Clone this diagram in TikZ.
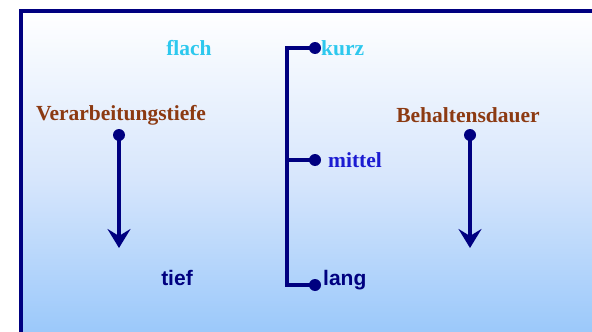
\documentclass[tikz,border=0pt]{standalone}
\usepackage{fontspec}
\setmainfont{Liberation Serif}
\setsansfont{Liberation Sans}
\usetikzlibrary{arrows.meta}
\definecolor{navyc}{RGB}{0,0,128}
\definecolor{brownc}{RGB}{140,58,18}
\definecolor{cyanc}{RGB}{45,200,238}
\definecolor{bluec}{RGB}{28,28,210}
\definecolor{bgbot}{RGB}{150,198,250}
\begin{document}
\begin{tikzpicture}[x=1pt,y=-1pt,
  lbl/.style={font=\fontsize{21.5}{21.5}\selectfont\bfseries\rmfamily, inner sep=0pt},
  slbl/.style={font=\fontsize{21}{21}\selectfont\bfseries\sffamily, inner sep=0pt, text=navyc},
  dot/.style={circle, fill=navyc, minimum size=12pt, inner sep=0pt},
  ln/.style={navyc, line width=3.5pt},
  arr/.style={ln, -{Stealth[length=19pt,width=23pt,inset=7pt]}}]
\useasboundingbox (0,0) rectangle (592,332);
\begin{scope}
\clip (0,0) rectangle (592,332);
\shade[top color=white, bottom color=bgbot, middle color={rgb,255:red,215;green,230;blue,252}] (21,11) rectangle (605,345);
\draw[navyc, line width=3.5pt] (21,345) -- (21,11) -- (605,11);
\end{scope}
% labels
\node[lbl, text=cyanc] (flach) at (189,48) {flach};
\node[lbl, text=brownc] (vt) at (121,115) {Verarbeitungstiefe};
\node[lbl, text=brownc] (bd) at (468,115) {Behaltensdauer};
\node[slbl] (tief) at (177,278) {tief};
% left arrow
\node[dot] (d1) at (119,135) {};
\coordinate (t1) at (119,248);
\draw[arr] (d1.center) -- (t1);
% right arrow
\node[dot] (d2) at (470,135) {};
\coordinate (t2) at (470,248);
\draw[arr] (d2.center) -- (t2);
% bracket
\node[dot] (k) at (315,48) {};
\node[dot] (m) at (315,160) {};
\node[dot] (l) at (315,285) {};
\coordinate (bt) at (287,48);
\coordinate (bm) at (287,160);
\coordinate (bb) at (287,285);
\draw[ln] (k.center) -- (bt) -- (bb) -- (l.center);
\draw[ln] (bm) -- (m.center);
\node[lbl, text=cyanc, anchor=west] (kurz) at (321,48) {kurz};
\node[lbl, text=bluec, anchor=west] (mittel) at (328,160) {mittel};
\node[slbl, anchor=west] (lang) at (323,280) {lang};
\end{tikzpicture}
\end{document}
